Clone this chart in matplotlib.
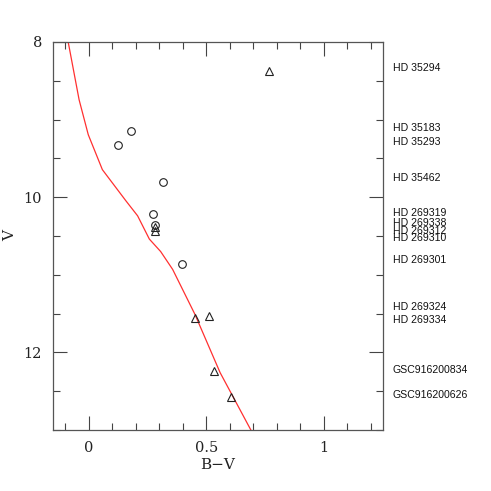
import matplotlib
matplotlib.use("Agg")
import matplotlib.pyplot as plt
from matplotlib.ticker import MultipleLocator

# stars observed, circles and triangles (B-V, V)
circle_bv = [0.180, 0.123, 0.315, 0.274, 0.282, 0.396]
circle_v = [9.15, 9.33, 9.80, 10.22, 10.36, 10.86]
tri_bv = [0.767, 0.283, 0.281, 0.452, 0.513, 0.532, 0.606]
tri_v = [8.38, 10.44, 10.38, 11.56, 11.53, 12.24, 12.58]

# ZAMS-like isochrone (red)
iso_bv = [-0.090, -0.041, -0.002, 0.058, 0.159, 0.208, 0.258, 0.306, 0.357, 0.452, 0.559, 0.690]
iso_v = [7.96, 8.745, 9.195, 9.645, 10.05, 10.24, 10.54, 10.70, 10.93, 11.51, 12.26, 13.0]

# star names on the right
names = ["HD 35294", "HD 35183", "HD 35293", "HD 35462", "HD 269319", "HD 269338",
         "HD 269312", "HD 269310", "HD 269301", "HD 269324", "HD 269334",
         "GSC916200834", "GSC916200626"]
name_v = [8.34, 9.11, 9.29, 9.75, 10.20, 10.33, 10.43, 10.53, 10.81, 11.41, 11.58, 12.23, 12.55]

fig = plt.figure(figsize=(4.91, 4.91), dpi=100)
ax = fig.add_axes([0.108, 0.1242, 0.6714, 0.7903])

ax.plot(iso_bv, iso_v, color="#ff3030", lw=0.9)
ax.plot(circle_bv, circle_v, "o", mfc="none", mec="#222222", ms=5.5, mew=0.8)
ax.plot(tri_bv, tri_v, "^", mfc="none", mec="#222222", ms=5.5, mew=0.8)

ax.set_xlim(-0.152, 1.251)
ax.set_ylim(13.0, 8.0)

ax.xaxis.set_major_locator(MultipleLocator(0.5))
ax.xaxis.set_minor_locator(MultipleLocator(0.1))
ax.yaxis.set_major_locator(MultipleLocator(2))
ax.yaxis.set_minor_locator(MultipleLocator(0.5))
ax.xaxis.set_major_formatter(plt.FuncFormatter(lambda v, p: f"{v:g}"))
ax.tick_params(which="both", direction="in", top=True, right=True, color="#444444", width=0.8)
ax.tick_params(which="major", length=10, pad=8)
ax.tick_params(which="minor", length=5)
for lab in ax.get_xticklabels() + ax.get_yticklabels():
    lab.set_family("DejaVu Serif")
    lab.set_fontsize(10.5)
    lab.set_color("#222222")
for s in ax.spines.values():
    s.set_color("#555555")
    s.set_linewidth(0.9)

ax.set_xlabel("B\u2212V", family="DejaVu Serif", fontsize=11, color="#222222", labelpad=2)
ax.set_ylabel("V", family="DejaVu Serif", fontsize=11, color="#222222")
ax.yaxis.set_label_coords(-0.11, 0.5)

for n, v in zip(names, name_v):
    ax.text(1.031, v, n, transform=ax.get_yaxis_transform(), va="center", ha="left",
            family="Liberation Sans", fontsize=7.6, color="#111111")

fig.savefig("out.png", dpi=100)
